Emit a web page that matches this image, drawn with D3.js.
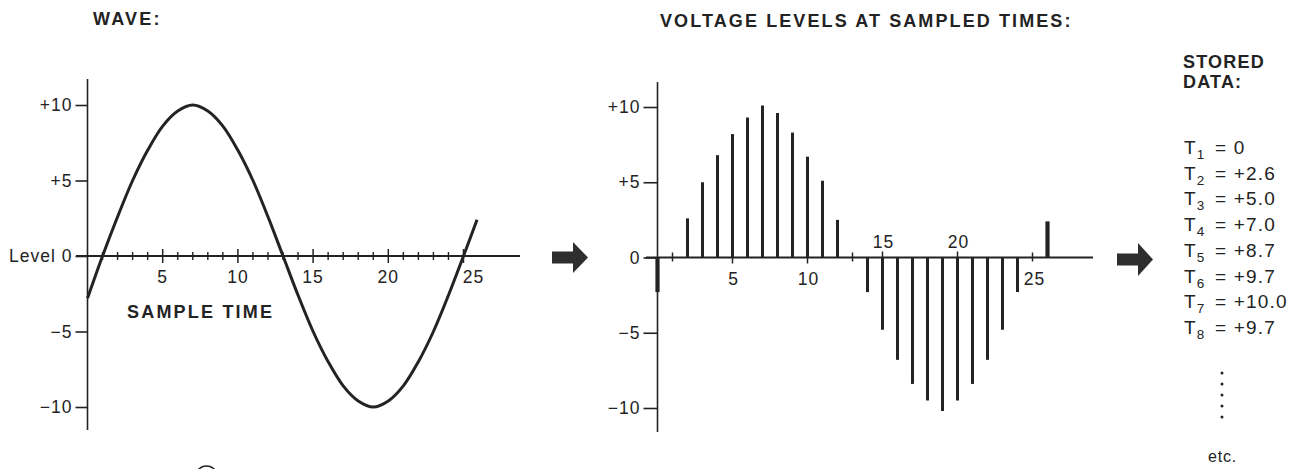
<!DOCTYPE html>
<html><head><meta charset="utf-8">
<script src="https://cdn.jsdelivr.net/npm/d3@7"></script>
<style>body{margin:0;background:#fff}svg{display:block}</style>
</head><body>
<svg id="c" width="1302" height="469"></svg>
<script>
// ---- data ----
const waveTimes  = [0,1,2,3,4,5,6,7,8,9,10,11,12,13,14,15,16,17,18,19,20,21,22,23,24,25,25.9];
const waveLevels = [-2.8,0,2.6,5.0,7.0,8.6,9.6,10.0,9.6,8.6,7.0,5.0,2.6,0,-2.6,-5.0,-7.0,-8.6,-9.6,-10.0,-9.6,-8.6,-7.0,-5.0,-2.6,0,2.4];
const sampleTimes  = [0,2,3,4,5,6,7,8,9,10,11,12,14,15,16,17,18,19,20,21,22,23,24,26];
const sampleLevels = [-2.3,2.6,5.0,6.8,8.2,9.3,10.1,9.6,8.3,6.7,5.1,2.5,-2.3,-4.8,-6.8,-8.4,-9.5,-10.2,-9.5,-8.4,-6.8,-4.8,-2.3,2.4];
const zeroSampleTimes = [1,13,25];
const levelTicks = [10,5,0,-5,-10];
const leftLevelLabels = ["+10","+5","Level 0","\u22125","\u221210"];
const midLevelLabels  = ["+10","+5","0","\u22125","\u221210"];
const timeLabels = [5,10,15,20,25];
const storedIndex = [1,2,3,4,5,6,7,8];
const storedValues = ["0","+2.6","+5.0","+7.0","+8.7","+9.7","+10.0","+9.7"];

const INK = "#232323";
const FONT = "'Liberation Sans', Arial, Helvetica, sans-serif";
const svg = d3.select("#c").style("font-family", FONT);

// ---- titles ----
function bold(x, y, t, ls) {
  return svg.append("text").attr("x", x).attr("y", y).attr("fill", INK)
    .attr("font-weight", "bold").attr("font-size", 18).attr("letter-spacing", ls).text(t);
}
bold(93, 25, "WAVE:", 2.2);
bold(660, 27, "VOLTAGE LEVELS AT SAMPLED TIMES:", 2.1);
bold(127, 318, "SAMPLE TIME", 2.2);
bold(1183, 68, "STORED", 1.2);
bold(1183, 88, "DATA:", 1.2);

// ---- left chart ----
const xL = d3.scaleLinear().domain([0, 25]).range([87.5, 463.5]);
const yL = d3.scaleLinear().domain([-10, 10]).range([407, 105]);
const gL = svg.append("g");
gL.append("line").attr("x1", xL(0)).attr("x2", xL(0)).attr("y1", 79).attr("y2", 430)
  .attr("stroke", INK).attr("stroke-width", 1.6);
gL.append("line").attr("x1", 76).attr("x2", 520).attr("y1", yL(0)).attr("y2", yL(0))
  .attr("stroke", INK).attr("stroke-width", 1.8);
const axL = d3.axisLeft(yL).tickValues(levelTicks).tickSize(12).tickPadding(3)
  .tickFormat((d, i) => leftLevelLabels[i]);
const gAxL = gL.append("g").attr("transform", `translate(${xL(0)},0)`).call(axL);
gAxL.select(".domain").remove();
gAxL.selectAll("line").attr("stroke", INK).attr("stroke-width", 1.6);
gAxL.selectAll("text").attr("font-size", 17.5).attr("fill", INK).attr("letter-spacing", 1)
  .style("font-family", FONT);
// time ticks
const minorT = d3.range(1, 25).filter(t => t % 5 !== 0);
gL.selectAll(".mt").data(minorT).join("line")
  .attr("x1", d => xL(d)).attr("x2", d => xL(d))
  .attr("y1", yL(0) - 4).attr("y2", yL(0) + 4).attr("stroke", INK).attr("stroke-width", 1.4);
gL.selectAll(".Mt").data(timeLabels).join("line")
  .attr("x1", d => xL(d)).attr("x2", d => xL(d))
  .attr("y1", yL(0) - 7).attr("y2", yL(0) + 7).attr("stroke", INK).attr("stroke-width", 1.5);
gL.selectAll(".tl").data(timeLabels).join("text")
  .attr("x", d => xL(d) + (d === 25 ? 10 : 0)).attr("y", 283)
  .attr("text-anchor", "middle").attr("font-size", 17.5).attr("letter-spacing", 1)
  .attr("fill", INK).text(d => d);
// wave
const line = d3.line().x((d, i) => xL(waveTimes[i])).y(d => yL(d)).curve(d3.curveCatmullRom.alpha(0.5));
gL.append("path").attr("d", line(waveLevels)).attr("fill", "none")
  .attr("stroke", INK).attr("stroke-width", 3).attr("stroke-linecap", "butt");

// ---- middle chart ----
const xM = d3.scaleLinear().domain([0, 25]).range([657.5, 1032.5]);
const yM = d3.scaleLinear().domain([-10, 10]).range([408, 107]);
const gM = svg.append("g");
gM.append("line").attr("x1", xM(0)).attr("x2", xM(0)).attr("y1", 82).attr("y2", 432)
  .attr("stroke", INK).attr("stroke-width", 1.6);
gM.append("line").attr("x1", 646).attr("x2", 1093).attr("y1", yM(0)).attr("y2", yM(0))
  .attr("stroke", INK).attr("stroke-width", 1.8);
const axM = d3.axisLeft(yM).tickValues(levelTicks).tickSize(14).tickPadding(3)
  .tickFormat((d, i) => midLevelLabels[i]);
const gAxM = gM.append("g").attr("transform", `translate(${xM(0)},0)`).call(axM);
gAxM.select(".domain").remove();
gAxM.selectAll("line").attr("stroke", INK).attr("stroke-width", 1.6);
gAxM.selectAll("text").attr("font-size", 17.5).attr("fill", INK).attr("letter-spacing", 1)
  .style("font-family", FONT);
gM.selectAll(".z").data(zeroSampleTimes).join("line")
  .attr("x1", d => xM(d)).attr("x2", d => xM(d))
  .attr("y1", yM(0) - 5).attr("y2", yM(0) + 4).attr("stroke", INK).attr("stroke-width", 1.5);
gM.selectAll(".mt").data(timeLabels.slice(0, 4)).join("line")
  .attr("x1", d => xM(d)).attr("x2", d => xM(d))
  .attr("y1", d => d < 12 ? yM(0) : yM(0) - 6).attr("y2", d => d < 12 ? yM(0) + 6 : yM(0))
  .attr("stroke", INK).attr("stroke-width", 1.5);
gM.selectAll(".tl").data(timeLabels).join("text")
  .attr("x", d => xM(d) + (d === 25 ? 2 : 1))
  .attr("y", d => (d === 15 || d === 20) ? 248 : 285)
  .attr("text-anchor", "middle").attr("font-size", 17.5).attr("letter-spacing", 1)
  .attr("fill", INK).text(d => d);
gM.selectAll(".bar").data(sampleLevels).join("line")
  .attr("x1", (d, i) => xM(sampleTimes[i])).attr("x2", (d, i) => xM(sampleTimes[i]))
  .attr("y1", yM(0)).attr("y2", d => yM(d))
  .attr("stroke", INK)
  .attr("stroke-width", (d, i) => (sampleTimes[i] === 0 || sampleTimes[i] === 26) ? 4.2 : 3);

// ---- arrows ----
function arrow(x0, xs, x1, cy, sh, hh) {
  const p = d3.path();
  p.moveTo(x0, cy - sh); p.lineTo(xs, cy - sh); p.lineTo(xs, cy - hh); p.lineTo(x1, cy);
  p.lineTo(xs, cy + hh); p.lineTo(xs, cy + sh); p.lineTo(x0, cy + sh); p.closePath();
  svg.append("path").attr("d", p.toString()).attr("fill", "#2e2e2e");
}
arrow(552, 573, 588, 257.5, 6, 15.5);
arrow(1117, 1138, 1153, 259.5, 6, 16.5);

// ---- stored data list ----
const gR = svg.append("g");
const rowY = i => 154 + i * 25.7;
storedIndex.forEach((k, i) => {
  const t = gR.append("text").attr("x", 1184).attr("y", rowY(i)).attr("font-size", 19)
    .attr("fill", INK).attr("letter-spacing", 1.2);
  t.append("tspan").text("T");
  t.append("tspan").attr("font-size", 13.5).attr("dy", 5).attr("dx", 0).text(k);
  t.append("tspan").attr("dy", -5).attr("x", 1215).text("= " + storedValues[i]);
});
gR.selectAll(".dot").data([0, 1, 2, 3, 4]).join("circle")
  .attr("cx", 1222).attr("cy", d => 373 + d * 11).attr("r", 1.5).attr("fill", INK);
gR.append("text").attr("x", 1208).attr("y", 462).attr("font-size", 16).attr("fill", INK)
  .attr("letter-spacing", 0.8).text("etc.");

// circled marker at bottom edge
svg.append("circle").attr("cx", 206.5).attr("cy", 477).attr("r", 11)
  .attr("fill", "none").attr("stroke", INK).attr("stroke-width", 1.6);
</script>
</body></html>
